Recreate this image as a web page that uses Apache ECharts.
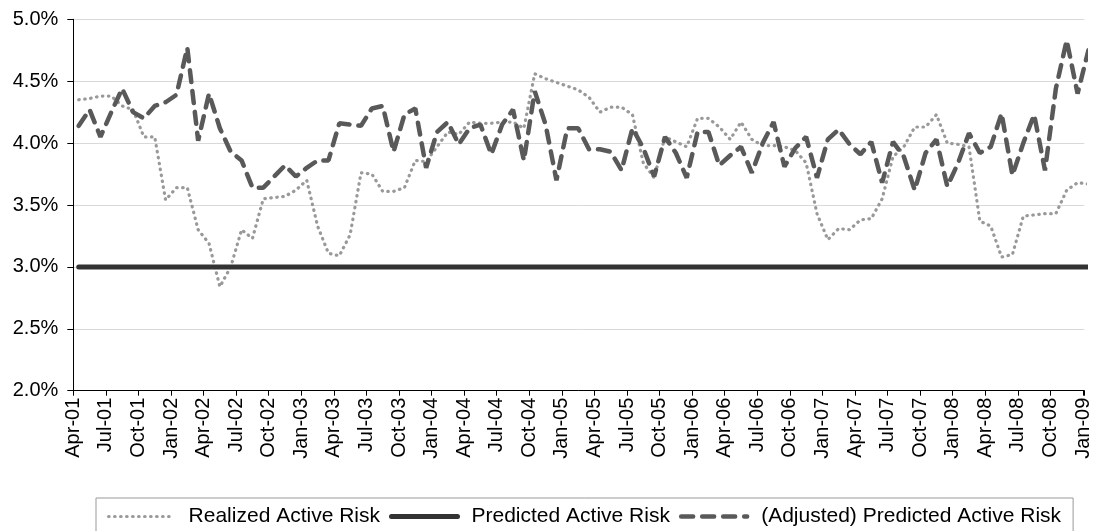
<!DOCTYPE html>
<html>
<head>
<meta charset="utf-8">
<script src="https://cdn.jsdelivr.net/npm/echarts@6/dist/echarts.min.js"></script>
<style>
html,body{margin:0;padding:0;background:#fff;}
#chart{width:1093px;height:531px;}
</style>
</head>
<body>
<div id="chart"></div>
<script>
var months = ["Apr-01","May-01","Jun-01","Jul-01","Aug-01","Sep-01","Oct-01","Nov-01","Dec-01",
"Jan-02","Feb-02","Mar-02","Apr-02","May-02","Jun-02","Jul-02","Aug-02","Sep-02","Oct-02","Nov-02","Dec-02",
"Jan-03","Feb-03","Mar-03","Apr-03","May-03","Jun-03","Jul-03","Aug-03","Sep-03","Oct-03","Nov-03","Dec-03",
"Jan-04","Feb-04","Mar-04","Apr-04","May-04","Jun-04","Jul-04","Aug-04","Sep-04","Oct-04","Nov-04","Dec-04",
"Jan-05","Feb-05","Mar-05","Apr-05","May-05","Jun-05","Jul-05","Aug-05","Sep-05","Oct-05","Nov-05","Dec-05",
"Jan-06","Feb-06","Mar-06","Apr-06","May-06","Jun-06","Jul-06","Aug-06","Sep-06","Oct-06","Nov-06","Dec-06",
"Jan-07","Feb-07","Mar-07","Apr-07","May-07","Jun-07","Jul-07","Aug-07","Sep-07","Oct-07","Nov-07","Dec-07",
"Jan-08","Feb-08","Mar-08","Apr-08","May-08","Jun-08","Jul-08","Aug-08","Sep-08","Oct-08","Nov-08","Dec-08",
"Jan-09"];

var realized = [4.35,4.36,4.38,4.38,4.30,4.27,4.05,4.05,3.54,3.64,3.64,3.30,3.19,2.84,3.00,3.30,3.23,3.55,3.56,3.57,
3.62,3.70,3.33,3.11,3.09,3.26,3.76,3.75,3.61,3.61,3.64,3.86,3.85,3.97,4.09,4.07,4.17,4.16,4.16,4.17,
4.17,4.12,4.56,4.52,4.49,4.46,4.43,4.37,4.25,4.29,4.29,4.23,3.84,3.72,4.05,4.01,3.97,4.20,4.20,4.13,
4.03,4.17,4.03,3.98,3.98,3.97,3.94,3.84,3.43,3.22,3.31,3.30,3.38,3.39,3.55,3.89,3.97,4.13,4.13,4.23,
4.00,3.99,3.97,3.37,3.33,3.08,3.10,3.41,3.42,3.43,3.43,3.62,3.68,3.67];

var predicted = [3.0,3.0,3.0,3.0,3.0,3.0,3.0,3.0,3.0,3.0,3.0,3.0,3.0,3.0,3.0,3.0,3.0,3.0,3.0,3.0,
3.0,3.0,3.0,3.0,3.0,3.0,3.0,3.0,3.0,3.0,3.0,3.0,3.0,3.0,3.0,3.0,3.0,3.0,3.0,3.0,
3.0,3.0,3.0,3.0,3.0,3.0,3.0,3.0,3.0,3.0,3.0,3.0,3.0,3.0,3.0,3.0,3.0,3.0,3.0,3.0,
3.0,3.0,3.0,3.0,3.0,3.0,3.0,3.0,3.0,3.0,3.0,3.0,3.0,3.0,3.0,3.0,3.0,3.0,3.0,3.0,
3.0,3.0,3.0,3.0,3.0,3.0,3.0,3.0,3.0,3.0,3.0,3.0,3.0,3.0];

var adjusted = [4.14,4.27,4.05,4.25,4.44,4.25,4.20,4.30,4.33,4.39,4.77,4.02,4.40,4.12,3.93,3.86,3.64,3.64,3.73,3.82,
3.73,3.80,3.86,3.86,4.16,4.15,4.14,4.28,4.30,3.93,4.23,4.28,3.80,4.09,4.17,3.99,4.12,4.15,3.91,4.15,
4.27,3.86,4.42,4.15,3.70,4.12,4.12,3.95,3.95,3.93,3.78,4.12,3.96,3.73,4.05,3.92,3.72,4.09,4.09,3.82,
3.90,3.97,3.76,4.00,4.17,3.81,3.96,4.05,3.72,4.03,4.11,3.99,3.91,4.01,3.68,4.01,3.89,3.62,3.92,4.03,
3.65,3.84,4.08,3.92,3.97,4.24,3.74,4.00,4.23,3.78,4.44,4.83,4.40,4.75];

var seriesNames = ["Realized Active Risk","Predicted Active Risk","(Adjusted) Predicted Active Risk"];

function toPoints(arr){
  return arr.map(function(v,i){ return [i + 0.5, v]; });
}

var chart = echarts.init(document.getElementById('chart'), null, {renderer:'canvas'});
var font = '"Liberation Sans", Arial, sans-serif';
var styles = [
  { color: '#999999', width: 3.2, type: [0.5, 5.5], cap: 'round' },
  { color: '#333333', width: 5, type: 'solid', cap: 'round' },
  { color: '#595959', width: 4.5, type: [12, 9], cap: 'round' }
];

chart.setOption({
  animation: false,
  backgroundColor: '#ffffff',
  grid: { left: 73.3, top: 19.3, right: 0, height: 371.4, containLabel: false },
  xAxis: {
    type: 'value', min: 0, max: 93.12, interval: 3,
    axisLine: { show: true, lineStyle: { color: '#000', width: 1 } },
    axisTick: { show: true, length: 5, lineStyle: { color: '#000' } },
    splitLine: { show: false },
    axisLabel: {
      rotate: 90, margin: 7, fontSize: 20, color: '#000', fontFamily: font,
      showMinLabel: true, showMaxLabel: true, hideOverlap: false,
      formatter: function(v){ return (v % 3 === 0 && months[v]) ? months[v] : ''; }
    }
  },
  yAxis: {
    type: 'value', min: 2.0, max: 5.0, interval: 0.5,
    axisLine: { show: true, lineStyle: { color: '#000', width: 1 } },
    axisTick: { show: true, length: 6, lineStyle: { color: '#000' } },
    splitLine: { show: true, lineStyle: { color: '#d9d9d9', width: 1 } },
    axisLabel: {
      margin: 15, fontSize: 20, color: '#000', fontFamily: font,
      formatter: function(v){ return v.toFixed(1) + '%'; }
    }
  },
  legend: {
    left: 96, top: 498,
    data: seriesNames.map(function(n, i){
      return { name: n, itemStyle: { opacity: 0 }, lineStyle: { width: styles[i].width, type: styles[i].type, color: styles[i].color, cap: styles[i].cap } };
    }),
    orient: 'horizontal',
    itemWidth: 66, itemHeight: 14, itemGap: 9,
    padding: [8, 12, 12, 11],
    borderColor: '#999', borderWidth: 1,
    itemStyle: { opacity: 0 },
    textStyle: { fontSize: 21, color: '#000', fontFamily: font, padding: [0, 0, 0, 9] }
  },
  series: styles.map(function(s, i){
    return {
      name: seriesNames[i], type: 'line',
      data: toPoints([realized, predicted, adjusted][i]),
      symbol: 'none', clip: false, z: 2 + i,
      lineStyle: s,
      itemStyle: { color: s.color, opacity: 0 }
    };
  })
});
</script>
</body>
</html>
